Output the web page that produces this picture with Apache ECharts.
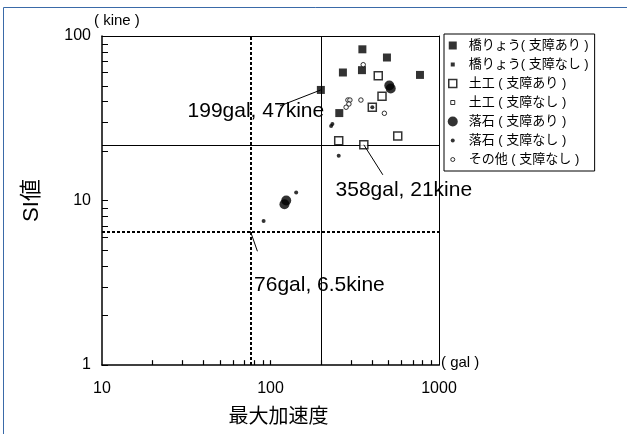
<!DOCTYPE html>
<html><head><meta charset="utf-8">
<script src="https://cdn.jsdelivr.net/npm/echarts@6/dist/echarts.min.js"></script>
<style>html,body{margin:0;padding:0;background:#fff}#c{width:627px;height:434px}</style>
</head><body><div id="c"></div>
<script>
// ---- data ----
const seriesNames = ['橋りょう( 支障あり )','橋りょう( 支障なし )','土工 ( 支障あり )','土工 ( 支障なし )','落石 ( 支障あり )','落石 ( 支障なし )','その他 ( 支障なし )'];
const bridgeHit = [[351,83],[491,74],[269,60],[349,62],[771,58],[199,47],[256,34]];
const bridgeOk = [];
const earthHit = [[436,57.4],[459,43],[402,36.9],[569,24.7],[254,23.1],[358,21.8]];
const earthOk = [];
const rockHit = [[517,48],[507,50],[121,9.5],[124,10]];
const rockOk = [[229,28.4],[233,29.2],[254,18.7],[91,7.5],[142,11.2],[402,36.9]];
const otherOk = [[355,66.9],[288,40.8],[296,40.8],[292,38.6],[281,36.9],[344,40.8],[474,33.9]];
const dashedX = [76];      // gal
const dashedY = [6.5];     // kine
const solidX = [200];
const solidY = [21.8];
const annotations = [[199,47,'199gal, 47kine'],[358,21.8,'358gal, 21kine'],[76,6.5,'76gal, 6.5kine']];
const xRange = [10, 1000];
const yRange = [1, 100];
const xTicks = [20,30,40,50,60,70,80,90,100,200,300,400,500,600,700,800,900];
const yMinorTicks = [2,3,4,5,6,7,8,9,20,30,40,50,60,70,80,90];

// ---- layout / style ----
const FONT = "'Liberation Sans', 'Noto Sans CJK JP', Arial, sans-serif";
const X_TICK_TOP = 1.07; // tick height expressed on the log y scale (~5px)
const annLayout = [
  {lx:-41, ly:16, tx:-65, ty:21},
  {lx:19, ly:30, tx:40, ty:45},
  {lx:7, ly:20, tx:69, ty:54}
];
const legendIcons = [
  'path://M0,0M10,10M1,1h8v8h-8z',
  'path://M0,0M10,10M3,3h4v4h-4z',
  'path://M0,0M10,10M1,1h8v8h-8z',
  'path://M0,0M10,10M3,3h4v4h-4z',
  'path://M0,0M10,10M0,5a5,5 0 1,0 10,0a5,5 0 1,0 -10,0z',
  'path://M0,0M10,10M3,5a2,2 0 1,0 4,0a2,2 0 1,0 -4,0z',
  'path://M0,0M10,10M3,5a2,2 0 1,0 4,0a2,2 0 1,0 -4,0z'
];
const symStyles = [
  {symbol:'rect', size:8, item:{color:'#000'}},
  {symbol:'rect', size:4, item:{color:'#000'}},
  {symbol:'rect', size:8, item:{color:'#fff', borderColor:'#000', borderWidth:1.5}},
  {symbol:'rect', size:4, item:{color:'#fff', borderColor:'#000', borderWidth:1}},
  {symbol:'circle', size:10, item:{color:'#000'}},
  {symbol:'circle', size:4, item:{color:'#000'}},
  {symbol:'circle', size:4.5, item:{color:'#fff', borderColor:'#000', borderWidth:1}}
];
const seriesData = [bridgeHit, bridgeOk, earthHit, earthOk, rockHit, rockOk, otherOk];

const chart = echarts.init(document.getElementById('c'), null, {renderer:'canvas'});

const scatterSeries = seriesNames.map((n,i)=>({
  name:n, type:'scatter', data:seriesData[i], symbol:symStyles[i].symbol,
  symbolSize:symStyles[i].size, itemStyle:symStyles[i].item, z:5, silent:true
}));

const refLine = (v, axis, dashed) => ({
  [axis]: v,
  lineStyle:{color:'#000', width: dashed ? 2 : 1, type: dashed ? [3,2] : 'solid'}
});

const option = {
  backgroundColor:'#fff',
  animation:false,
  textStyle:{fontFamily:FONT},
  graphic:[{type:'rect', z:-10, shape:{x:3.5,y:7.5,width:700,height:500}, style:{fill:'none', stroke:'#3a6aa8', lineWidth:1}}],
  title:[
    {text:'( kine )', left:94, top:13, padding:0, textStyle:{fontSize:15, fontWeight:'normal', color:'#000', fontFamily:FONT}},
    {text:'( gal )', left:441, top:355, padding:0, textStyle:{fontSize:15, fontWeight:'normal', color:'#000', fontFamily:FONT}}
  ],
  grid:{left:102, right:188, top:36, bottom:69, show:false},
  xAxis:[{
    type:'log', logBase:10, min:xRange[0], max:xRange[1],
    name:'最大加速度', nameLocation:'middle', nameGap:42,
    nameTextStyle:{fontSize:20, color:'#000', fontFamily:FONT, padding:[0,0,0,16]},
    axisLine:{lineStyle:{color:'#000', width:1.5}},
    axisTick:{show:false},
    axisLabel:{fontSize:16, color:'#000', margin:16, fontFamily:FONT, formatter:(v)=>String(v)},
    splitLine:{show:false}
  },{
    type:'log', logBase:10, min:xRange[0], max:xRange[1], position:'top',
    axisLine:{lineStyle:{color:'#000', width:1}}, axisTick:{show:false}, axisLabel:{show:false}, splitLine:{show:false}
  }],
  yAxis:[{
    type:'log', logBase:10, min:yRange[0], max:yRange[1],
    name:'SI値', nameLocation:'middle', nameGap:59,
    nameTextStyle:{fontSize:22, color:'#000', fontFamily:FONT},
    axisLine:{lineStyle:{color:'#000', width:1.5}},
    axisTick:{show:true, inside:true, length:6, lineStyle:{color:'#000', width:1}},
    axisLabel:{fontSize:16, color:'#000', margin:11, fontFamily:FONT},
    splitLine:{show:false}
  },{
    type:'log', logBase:10, min:yRange[0], max:yRange[1], position:'right',
    axisLine:{lineStyle:{color:'#000', width:1}}, axisTick:{show:false}, axisLabel:{show:false}, splitLine:{show:false}
  }],
  legend:{
    orient:'vertical', left:444, top:34, padding:[5,6,5,3], itemGap:6,
    itemWidth:14, itemHeight:10, borderColor:'#000', borderWidth:1, borderRadius:0,
    backgroundColor:'#fff', selectedMode:false,
    textStyle:{fontSize:13, color:'#000', fontFamily:FONT, padding:[0,22,0,4]},
    data: seriesNames.map((n,i)=>({name:n, icon:legendIcons[i], itemStyle:{
      color:symStyles[i].item.color, borderColor:'#000', borderWidth:symStyles[i].item.borderWidth || 0}}))
  },
  series:[
    {
      type:'scatter', data:[], silent:true, z:3,
      markLine:{silent:true, symbol:['none','none'], label:{show:false}, animation:false,
        data:[].concat(
          dashedX.map(v=>refLine(v,'xAxis',true)),
          dashedY.map(v=>refLine(v,'yAxis',true)),
          solidX.map(v=>refLine(v,'xAxis',false)),
          solidY.map(v=>refLine(v,'yAxis',false))
        )}
    },
    {
      // x-axis tick marks as short markLine segments through the axis scales
      type:'scatter', data:[], silent:true, z:20,
      markLine:{silent:true, symbol:['none','none'], label:{show:false}, animation:false,
        lineStyle:{color:'#000', width:1.2, type:'solid'},
        data: xTicks.map(v=>[{coord:[v, yRange[0]]}, {coord:[v, X_TICK_TOP]}])}
    },
    {
      // y-axis minor ticks
      type:'custom', silent:true, z:20, clip:false,
      data: yMinorTicks.map(v=>[xRange[0], v]),
      encode:{x:0, y:1},
      renderItem:(params, api)=>{
        const p = api.coord([api.value(0), api.value(1)]);
        const y = Math.round(p[1]);
        return {type:'rect', shape:{x:p[0], y:y, width:6, height:1}, style:{fill:'#000'}};
      }
    },
    {
      type:'custom', silent:true, z:6, clip:false,
      data: annotations.map(a=>[a[0], a[1]]),
      renderItem:(params, api)=>{
        const i = params.dataIndex;
        const p = api.coord([api.value(0), api.value(1)]);
        const o = annLayout[i];
        return {type:'group', children:[
          {type:'line', shape:{x1:p[0], y1:p[1], x2:p[0]+o.lx, y2:p[1]+o.ly}, style:{stroke:'#000', lineWidth:1}},
          {type:'text', x:p[0]+o.tx, y:p[1]+o.ty, style:{text:annotations[i][2], fontSize:21, fontFamily:FONT, fill:'#000', align:'center', verticalAlign:'middle'}}
        ]};
      }
    }
  ].concat(scatterSeries)
};
chart.setOption(option);
</script></body></html>
